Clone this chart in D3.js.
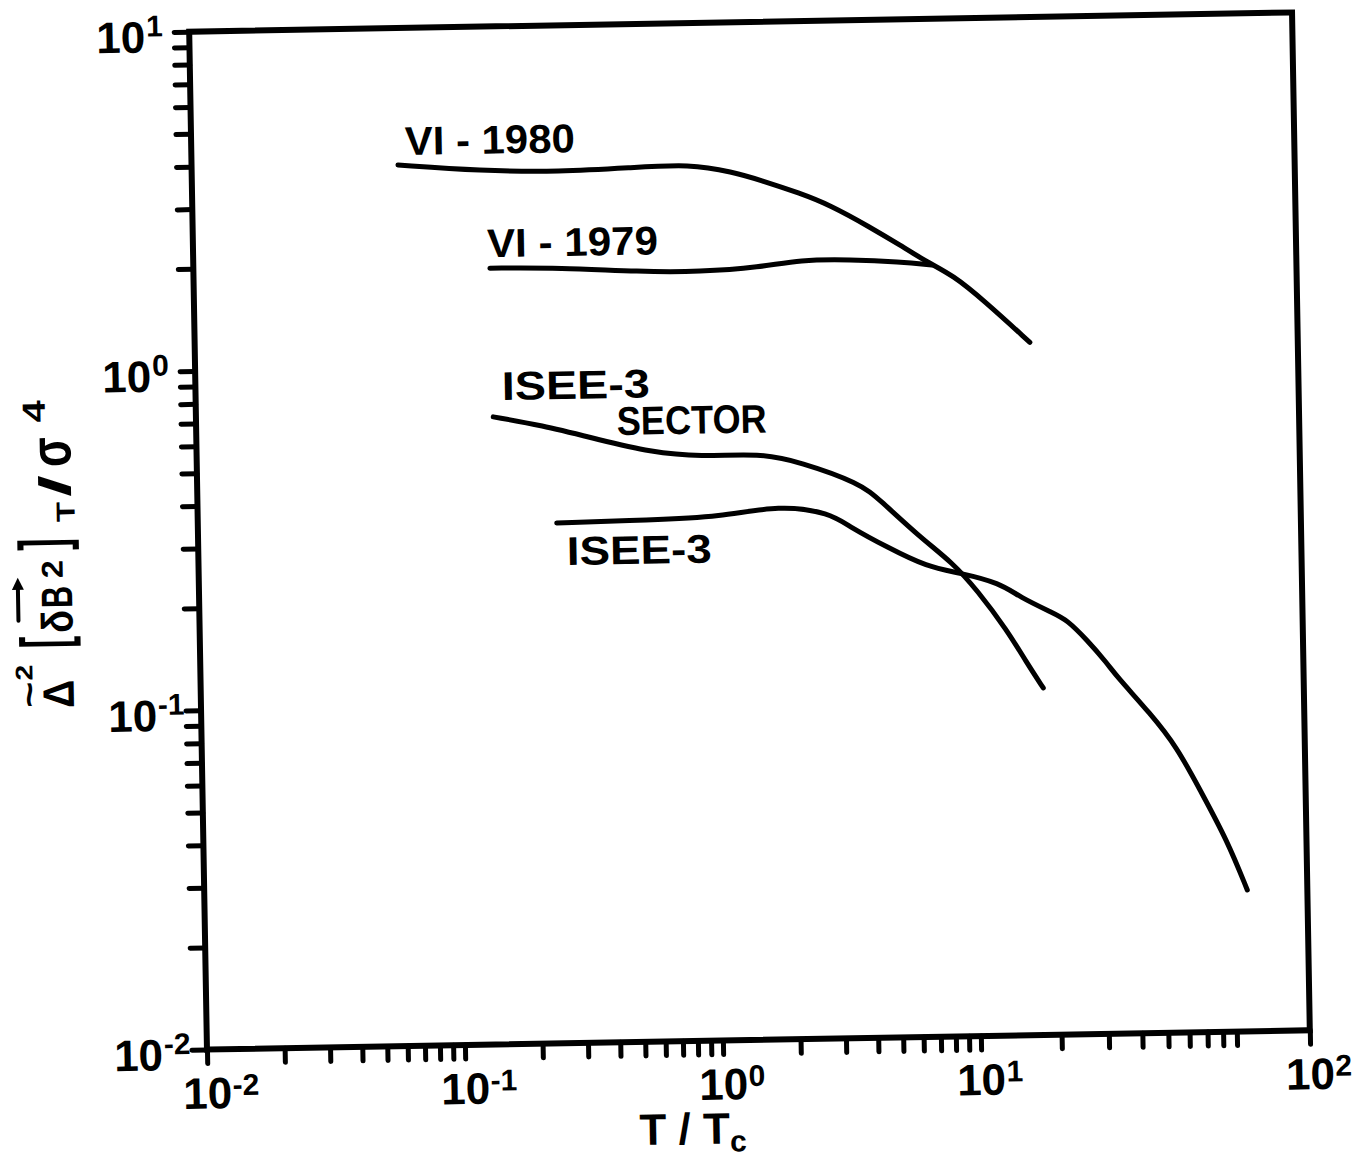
<!DOCTYPE html>
<html>
<head>
<meta charset="utf-8">
<script src="https://cdn.jsdelivr.net/npm/d3@7"></script>
<style>
  body { margin: 0; background: #fff; }
  svg { display: block; }
  text { font-family: "Liberation Sans", Arial, sans-serif; font-weight: bold; fill: #000; }
</style>
</head>
<body>
<div id="chart"></div>
<script>
const width = 1361;
const height = 1163;

// frame of the plot (the scanned page is turned by about one degree)
const margin = { top: 22, left: 198 };
const plotW = 1103;
const plotH = 1018;

// curves: T/Tc against the normalised variance
const vi1980X = [0.0631, 0.131, 0.268, 0.5, 0.855, 1.25, 1.59, 2.27, 2.96, 4.22, 5.5, 6.98, 8.78, 11.4, 16.9];
const vi1980Y = [3.95, 3.76, 3.7, 3.77, 3.84, 3.62, 3.42, 3.11, 2.86, 2.45, 2.16, 1.92, 1.75, 1.475, 1.1];

const vi1979X = [0.141, 0.264, 0.538, 0.919, 1.57, 2.25, 3.51, 5.48, 7.29];
const vi1979Y = [1.94, 1.93, 1.86, 1.845, 1.89, 1.98, 1.97, 1.93, 1.88];

const sectorX = [0.142, 0.215, 0.367, 0.572, 0.893, 1.53, 2.18, 3.71, 4.42, 6.28, 8.39, 10.35, 13.3, 15.7, 18.0];
const sectorY = [0.707, 0.666, 0.597, 0.547, 0.526, 0.536, 0.502, 0.432, 0.384, 0.297, 0.2485, 0.206, 0.1567, 0.125, 0.1053];

const iseeX = [0.246, 0.566, 1.057, 1.81, 2.82, 3.37, 4.67, 6.66, 8.93, 12.6, 14.9, 19.8, 22.3, 26.4, 31.2, 34.0, 44.8, 56.2, 68.1, 85.2, 91.7];
const iseeY = [0.3417, 0.3447, 0.349, 0.376, 0.354, 0.321, 0.279, 0.2425, 0.232, 0.2157, 0.1957, 0.1749, 0.1666, 0.145, 0.1238, 0.1124, 0.0877, 0.0694, 0.0517, 0.0367, 0.0261];

// curve labels and where they sit (data units, left end of baseline)
const labelText = ["VI - 1980", "VI - 1979", "ISEE-3", "SECTOR", "ISEE-3"];
const labelX = [0.0673, 0.138, 0.154, 0.427, 0.268];
const labelY = [4.22, 2.09, 0.792, 0.616, 0.2566];

// decade labels
const xDecades = [0.01, 0.1, 1, 10, 100];
const xExponents = ["-2", "-1", "0", "1", "2"];
const yDecades = [0.01, 0.1, 1, 10];
const yExponents = ["-2", "-1", "0", "1"];

const svg = d3
  .select("#chart")
  .append("svg")
  .attr("width", width)
  .attr("height", height);

svg.append("rect").attr("width", width).attr("height", height).attr("fill", "#fff");

const page = svg.append("g").attr("transform", "rotate(-1, 750, 531)");
const plot = page.append("g").attr("transform", `translate(${margin.left},${margin.top})`);

// the hand drawn x axis: even decades, but the 90 tick stops well short of the corner
const x = d3
  .scaleLog()
  .domain([0.01, 0.1, 1, 10, 90, 100])
  .range([0, 258, 516, 774, 1030, plotW]);
const y = d3.scaleLog().domain([0.01, 10]).range([plotH, 0]);

// ticks
const xAxis = d3.axisBottom(x).tickValues(x.ticks()).tickSize(14).tickFormat("");
const yAxis = d3.axisLeft(y).tickValues(y.ticks()).tickSize(15).tickFormat("");

const gx = plot.append("g").attr("transform", `translate(0,${plotH})`).call(xAxis);
const gy = plot.append("g").call(yAxis);
[gx, gy].forEach((g) => {
  g.select(".domain").remove();
  g.selectAll("line").attr("stroke", "#000").attr("stroke-width", 5).attr("stroke-linecap", "round");
});

// frame
plot
  .append("rect")
  .attr("width", plotW)
  .attr("height", plotH)
  .attr("fill", "none")
  .attr("stroke", "#000")
  .attr("stroke-width", 6);

// tick labels
xDecades.forEach((d, i) => {
  plot.append("text")
    .attr("x", x(d))
    .attr("y", plotH + 59)
    .attr("text-anchor", "middle")
    .attr("font-size", 44)
    .text("10");
  plot.append("text")
    .attr("x", x(d) + 25)
    .attr("y", plotH + 46)
    .attr("font-size", 30)
    .text(xExponents[i]);
});

yDecades.forEach((d, i) => {
  plot.append("text")
    .attr("x", -44)
    .attr("y", y(d) + 20)
    .attr("text-anchor", "end")
    .attr("font-size", 44)
    .text("10");
  plot.append("text")
    .attr("x", -43)
    .attr("y", y(d) + 4)
    .attr("font-size", 30)
    .text(yExponents[i]);
});

// curves
const line = d3
  .line()
  .x((d) => x(d[0]))
  .y((d) => y(d[1]))
  .curve(d3.curveBasis);

const series = [
  d3.zip(vi1980X, vi1980Y),
  d3.zip(vi1979X, vi1979Y),
  d3.zip(sectorX, sectorY),
  d3.zip(iseeX, iseeY)
];

plot
  .append("g")
  .selectAll("path")
  .data(series)
  .join("path")
  .attr("d", line)
  .attr("fill", "none")
  .attr("stroke", "#000")
  .attr("stroke-width", 5)
  .attr("stroke-linecap", "round")
  .attr("stroke-linejoin", "round");

// curve labels
const labelWidth = [170, 171, 148, 150, 145];
plot
  .append("g")
  .selectAll("text")
  .data(labelText)
  .join("text")
  .attr("x", (d, i) => x(labelX[i]))
  .attr("y", (d, i) => y(labelY[i]))
  .attr("font-size", 40)
  .attr("textLength", (d, i) => labelWidth[i])
  .attr("lengthAdjust", "spacingAndGlyphs")
  .text((d) => d);

// x axis title
const xt = plot.append("text").attr("x", 431).attr("y", plotH + 103).attr("font-size", 44);
xt.append("tspan").text("T / T");
xt.append("tspan").attr("dy", 8).attr("font-size", 30).text("c");

// y axis title, built piece by piece along the rotated baseline
const yt = plot.append("g").attr("transform", "translate(-124,676) rotate(-90)");
const parts = [
  { t: "Δ", x: 2, y: -3, s: 44, w: 28 },
  { t: "~", x: 3, y: -36, s: 34, w: 26 },
  { t: "2", x: 30, y: -44, s: 24, w: 16 },
  { t: "[", x: 62, y: -9, s: 66, w: 12 },
  { t: "δ", x: 77, y: -3, s: 44, w: 23 },
  { t: "B", x: 102, y: -3, s: 44, w: 22 },
  { t: "2", x: 132, y: -12, s: 30, w: 18 },
  { t: "]", x: 160, y: -9, s: 66, w: 12 },
  { t: "T", x: 188, y: 1, s: 26, w: 20 },
  { t: "/", x: 213, y: -3, s: 44, w: 22 },
  { t: "σ", x: 243, y: -2, s: 58, w: 30 },
  { t: "4", x: 288, y: -27, s: 32, w: 22 }
];
yt.selectAll("text")
  .data(parts)
  .join("text")
  .attr("x", (d) => d.x)
  .attr("y", (d) => d.y)
  .attr("font-size", (d) => d.s)
  .attr("textLength", (d) => d.w)
  .attr("lengthAdjust", "spacingAndGlyphs")
  .text((d) => d.t);

// vector arrow over δB
yt.append("path")
  .attr("d", "M90,-57 L126,-57")
  .attr("stroke", "#000")
  .attr("stroke-width", 4)
  .attr("stroke-linecap", "round");
yt.append("path")
  .attr("d", "M121,-63 L133,-57 L121,-51 Z")
  .attr("fill", "#000");
</script>
</body>
</html>
